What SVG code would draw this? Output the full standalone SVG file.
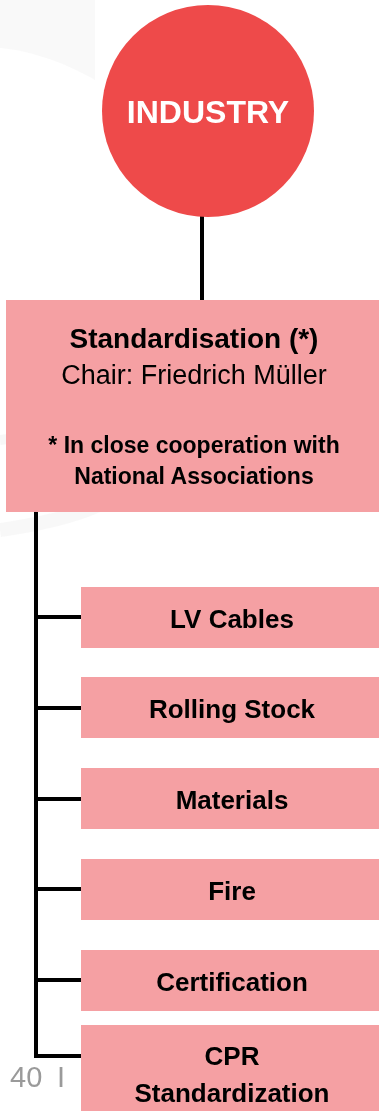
<svg xmlns="http://www.w3.org/2000/svg" width="379" height="1111" viewBox="0 0 379 1111">
<style>
.box{fill:#F5A0A3}
.lbl{font-family:"Liberation Sans",Arial,sans-serif;font-weight:bold;font-size:26px;fill:#000;text-anchor:middle}
.conn{stroke:#000;stroke-width:4;fill:none}
.pg{font-family:"Liberation Sans",Arial,sans-serif;font-size:29px;fill:#9a9a9a}
</style>
<g id="background" opacity="0.6">
<path d="M0,0 H95 V80 C60,60 25,50 0,48 Z" fill="#f6f6f6"/>
<path d="M0,440 C80,430 180,400 260,330" stroke="#d8d8d8" stroke-width="10" fill="none" opacity="0.35"/>
<path d="M0,530 C70,520 110,505 140,480" stroke="#e4e4e4" stroke-width="14" fill="none" opacity="0.4"/>
</g>
<g id="connectors">
<line class="conn" x1="202" y1="209" x2="202" y2="300"/>
<line class="conn" x1="36" y1="512" x2="36" y2="1058"/>
<line class="conn" x1="36" y1="617" x2="81" y2="617"/>
<line class="conn" x1="36" y1="708" x2="81" y2="708"/>
<line class="conn" x1="36" y1="799" x2="81" y2="799"/>
<line class="conn" x1="36" y1="889" x2="81" y2="889"/>
<line class="conn" x1="36" y1="980" x2="81" y2="980"/>
<line class="conn" x1="36" y1="1056" x2="81" y2="1056"/>
</g>
<g id="industry">
<circle cx="208" cy="111" r="106" fill="#EE4A4A"/>
<text x="208" y="123" class="lbl" style="font-size:32px;fill:#fff">INDUSTRY</text>
</g>
<g id="standardisation">
<rect class="box" x="6" y="300" width="373" height="212"/>
<text x="194" y="348" class="lbl" style="font-size:28px">Standardisation (*)</text>
<text x="194" y="384" class="lbl" style="font-weight:normal;font-size:27px">Chair: Friedrich Müller</text>
<text x="194" y="453" class="lbl" style="font-size:23px">* In close cooperation with</text>
<text x="194" y="484" class="lbl" style="font-size:23px">National Associations</text>
</g>
<g id="lv-cables">
<rect class="box" x="81" y="587" width="298" height="61"/>
<text x="232" y="628" class="lbl">LV Cables</text>
</g>
<g id="rolling-stock">
<rect class="box" x="81" y="677" width="298" height="61"/>
<text x="232" y="718" class="lbl">Rolling Stock</text>
</g>
<g id="materials">
<rect class="box" x="81" y="768" width="298" height="61"/>
<text x="232" y="809" class="lbl">Materials</text>
</g>
<g id="fire">
<rect class="box" x="81" y="859" width="298" height="61"/>
<text x="232" y="900" class="lbl">Fire</text>
</g>
<g id="certification">
<rect class="box" x="81" y="950" width="298" height="61"/>
<text x="232" y="991" class="lbl">Certification</text>
</g>
<g id="cpr">
<rect class="box" x="81" y="1025" width="298" height="86"/>
<text x="232" y="1065" class="lbl">CPR</text>
<text x="232" y="1102" class="lbl">Standardization</text>
</g>
<g id="page-number">
<text x="10" y="1087" class="pg">40</text>
<text x="57" y="1087" class="pg">I</text>
</g>
</svg>
